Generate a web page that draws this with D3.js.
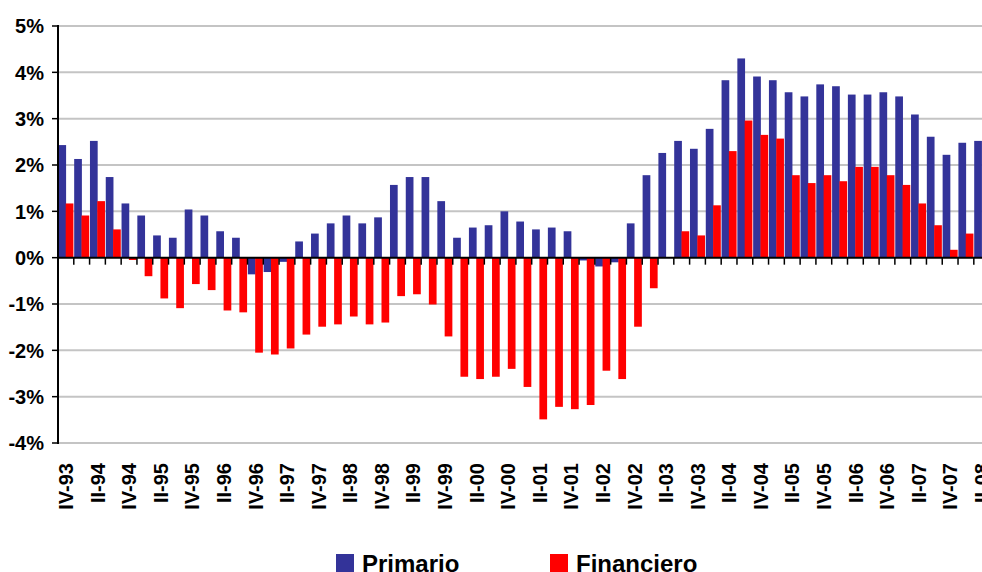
<!DOCTYPE html>
<html>
<head>
<meta charset="utf-8">
<script src="https://cdn.jsdelivr.net/npm/d3@7"></script>
<style>
  html, body { margin: 0; padding: 0; background: #fff; overflow: hidden; }
  svg { display: block; }
  text { font-family: "Liberation Sans", Arial, sans-serif; font-weight: bold; fill: #000; }
</style>
</head>
<body>
<div id="chart"></div>
<script>
// Quarterly balances, % — IV-93 .. II-08
const quarters = [
  "IV-93",
  "I-94", "II-94", "III-94", "IV-94",
  "I-95", "II-95", "III-95", "IV-95",
  "I-96", "II-96", "III-96", "IV-96",
  "I-97", "II-97", "III-97", "IV-97",
  "I-98", "II-98", "III-98", "IV-98",
  "I-99", "II-99", "III-99", "IV-99",
  "I-00", "II-00", "III-00", "IV-00",
  "I-01", "II-01", "III-01", "IV-01",
  "I-02", "II-02", "III-02", "IV-02",
  "I-03", "II-03", "III-03", "IV-03",
  "I-04", "II-04", "III-04", "IV-04",
  "I-05", "II-05", "III-05", "IV-05",
  "I-06", "II-06", "III-06", "IV-06",
  "I-07", "II-07", "III-07", "IV-07",
  "I-08", "II-08"
];

const primario = [
  2.43,
  2.13, 2.52, 1.74, 1.17,
  0.91, 0.48, 0.43, 1.04,
  0.91, 0.57, 0.43, -0.36,
  -0.31, -0.09, 0.35, 0.52,
  0.74, 0.91, 0.74, 0.87,
  1.57, 1.74, 1.74, 1.22,
  0.43, 0.65, 0.70, 1.00,
  0.78, 0.61, 0.65, 0.57,
  -0.06, -0.19, -0.10, 0.74,
  1.78, 2.26, 2.52, 2.35,
  2.78, 3.83, 4.30, 3.91,
  3.83, 3.57, 3.48, 3.74,
  3.70, 3.52, 3.52, 3.57,
  3.48, 3.09, 2.61, 2.22,
  2.48, 2.52
];

const financiero = [
  1.17,
  0.91, 1.22, 0.61, -0.05,
  -0.40, -0.88, -1.09, -0.57,
  -0.70, -1.14, -1.18, -2.05,
  -2.09, -1.96, -1.66, -1.49,
  -1.44, -1.27, -1.44, -1.40,
  -0.83, -0.79, -1.01, -1.70,
  -2.57, -2.62, -2.57, -2.40,
  -2.79, -3.49, -3.22, -3.27,
  -3.18, -2.44, -2.62, -1.49,
  -0.66, 0, 0.57, 0.48,
  1.13, 2.30, 2.96, 2.65,
  2.57, 1.78, 1.61, 1.78,
  1.65, 1.96, 1.96, 1.78,
  1.57, 1.17, 0.70, 0.17,
  0.52, null
];

const yTicks = [5, 4, 3, 2, 1, 0, -1, -2, -3, -4];
const seriesNames = ["Primario", "Financiero"];
const seriesColors = ["#333399", "#ff0000"];

const width = 982, height = 572;
const svg = d3.select("#chart").append("svg")
  .attr("width", width).attr("height", height);

const plotLeft = 58, plotTop = 26, plotBottom = 443;
const step = 15.79;

const x = d3.scaleBand()
  .domain(quarters)
  .range([plotLeft, plotLeft + quarters.length * step])
  .padding(0);

const sub = d3.scaleBand()
  .domain(seriesNames)
  .range([0, x.bandwidth()])
  .paddingInner(0)
  .paddingOuter(0.08);

const y = d3.scaleLinear().domain([-4, 5]).range([plotBottom, plotTop]);

// gridlines
svg.append("g")
  .selectAll("line")
  .data(yTicks.filter(d => d !== 0))
  .join("line")
  .attr("x1", plotLeft).attr("x2", width)
  .attr("y1", d => y(d)).attr("y2", d => y(d))
  .attr("stroke", "#c4c4c4")
  .attr("stroke-width", 2);

// bars
const series = [primario, financiero];
series.forEach((vals, si) => {
  svg.append("g")
    .selectAll("rect")
    .data(vals.map((v, i) => ({ q: quarters[i], v })).filter(d => d.v !== null && d.v !== 0))
    .join("rect")
    .attr("x", d => x(d.q) + sub(seriesNames[si]) - 0.2)
    .attr("width", sub.bandwidth() + 0.4)
    .attr("y", d => y(Math.max(0, d.v)))
    .attr("height", d => Math.abs(y(d.v) - y(0)))
    .attr("fill", seriesColors[si]);
});

// y axis
const yAxis = svg.append("g");
yAxis.append("line")
  .attr("x1", plotLeft).attr("x2", plotLeft)
  .attr("y1", plotTop - 1).attr("y2", plotBottom + 1)
  .attr("stroke", "#000").attr("stroke-width", 2);
yAxis.selectAll(".tk")
  .data(yTicks)
  .join("line")
  .attr("x1", plotLeft - 6).attr("x2", plotLeft)
  .attr("y1", d => y(d)).attr("y2", d => y(d))
  .attr("stroke", "#000").attr("stroke-width", 1.5);
yAxis.selectAll("text")
  .data(yTicks)
  .join("text")
  .attr("x", 44)
  .attr("y", d => y(d))
  .attr("dy", "0.36em")
  .attr("text-anchor", "end")
  .style("font-size", "20px")
  .text(d => d + "%");

// zero line + category ticks
svg.append("line")
  .attr("x1", plotLeft).attr("x2", width)
  .attr("y1", y(0)).attr("y2", y(0))
  .attr("stroke", "#000").attr("stroke-width", 2);

svg.append("g")
  .selectAll("line")
  .data(quarters.slice(1))
  .join("line")
  .attr("x1", d => x(d)).attr("x2", d => x(d))
  .attr("y1", y(0)).attr("y2", y(0) + 7)
  .attr("stroke", "#000").attr("stroke-width", 1.5);

// category labels, every other quarter
svg.append("g")
  .selectAll("text")
  .data(quarters.filter((d, i) => i % 2 === 0))
  .join("text")
  .attr("transform", d => `translate(${x(d) + x.bandwidth() / 2},463) rotate(-90)`)
  .attr("dy", "0.36em")
  .attr("text-anchor", "end")
  .style("font-size", "20px")
  .text(d => d);

// legend
const legendX = [336, 550];
const legend = svg.append("g")
  .selectAll("g")
  .data(seriesNames)
  .join("g")
  .attr("transform", (d, i) => `translate(${legendX[i]},554)`);
legend.append("rect")
  .attr("width", 18).attr("height", 18)
  .attr("fill", (d, i) => seriesColors[i]);
legend.append("text")
  .attr("x", 26).attr("y", 18)
  .style("font-size", "24px")
  .text(d => d);
</script>
</body>
</html>
